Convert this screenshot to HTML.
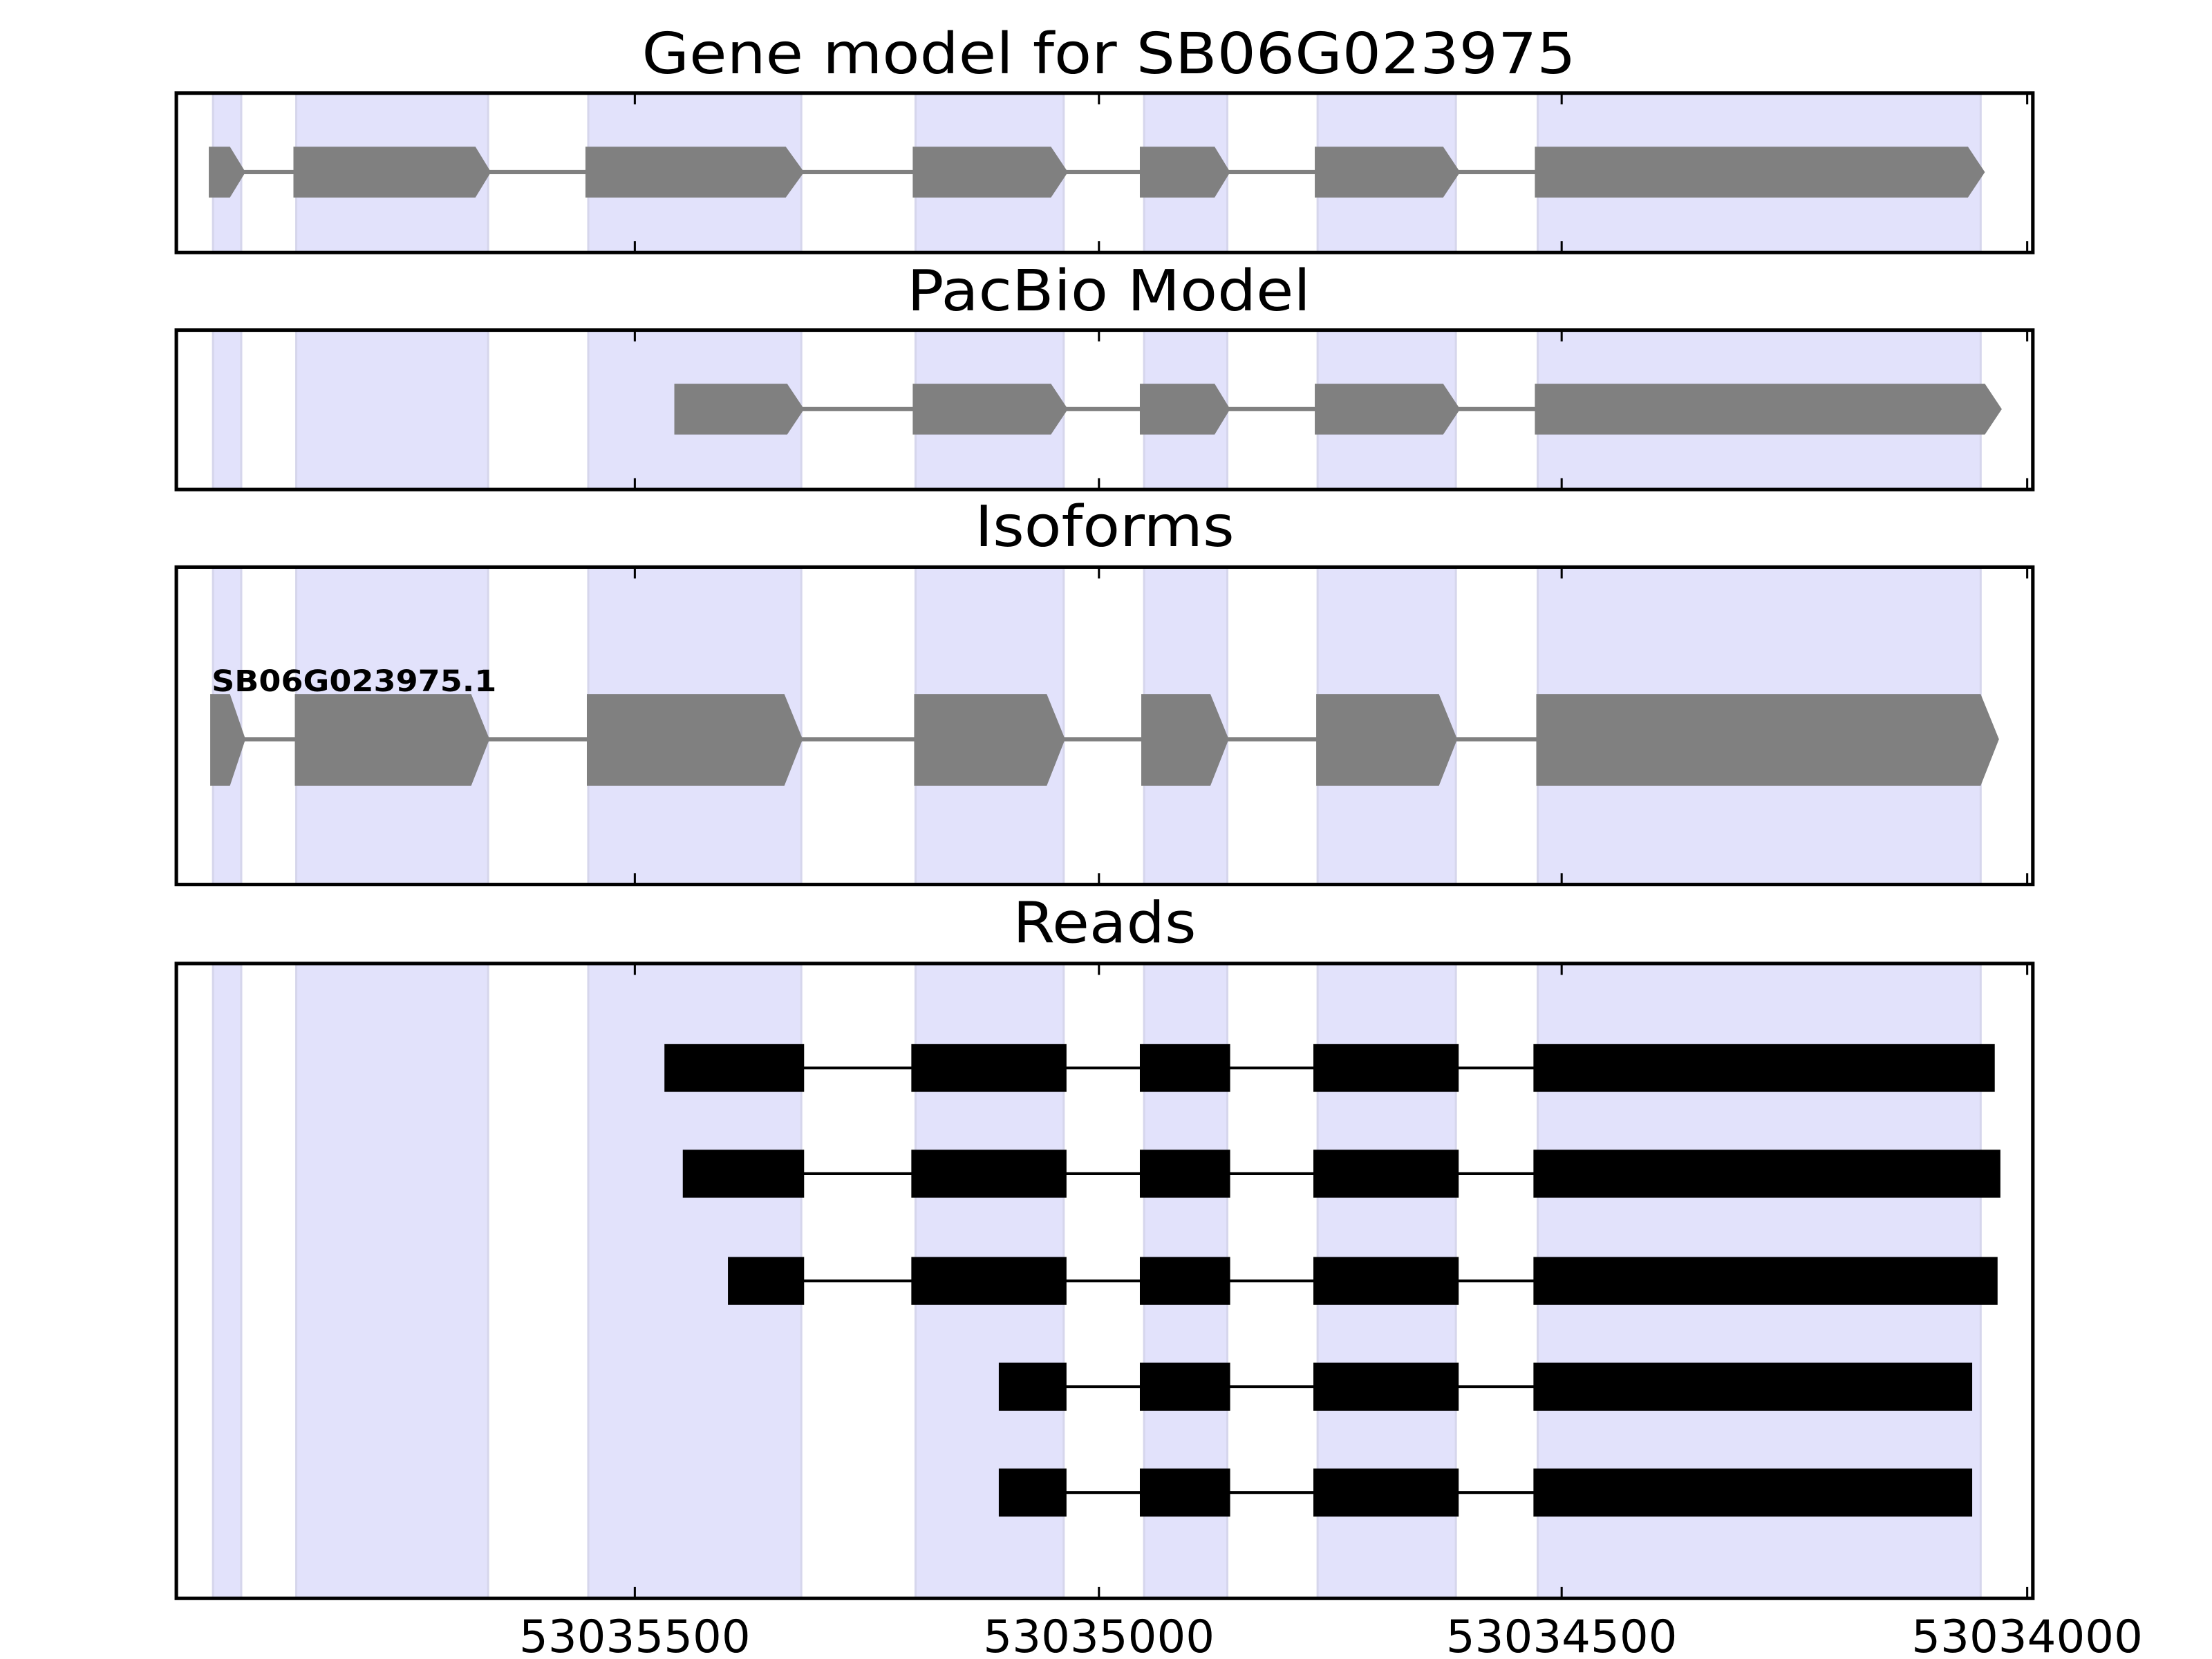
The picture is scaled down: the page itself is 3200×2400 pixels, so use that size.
<!DOCTYPE html>
<html><head><meta charset="utf-8"><style>html,body{margin:0;padding:0;background:#fff}svg{display:block}</style></head><body>
<svg xmlns="http://www.w3.org/2000/svg" width="3200" height="2400" viewBox="0 0 1568 1176">
<defs>
<g id="bands">
<rect x="151" width="20" height="1200"/>
<rect x="210" width="136" height="1200"/>
<rect x="417" width="151" height="1200"/>
<rect x="649" width="105" height="1200"/>
<rect x="811" width="59" height="1200"/>
<rect x="934" width="98" height="1200"/>
<rect x="1090" width="314" height="1200"/>
</g>
<clipPath id="c1"><rect x="125" y="66" width="1316" height="113"/></clipPath>
<clipPath id="c2"><rect x="125" y="234" width="1316" height="113"/></clipPath>
<clipPath id="c3"><rect x="125" y="402" width="1316" height="225"/></clipPath>
<clipPath id="c4"><rect x="125" y="683" width="1316" height="450"/></clipPath>
</defs>
<rect width="1568" height="1176" fill="#fff"/>
<g fill="#e2e2fb" stroke="#d6d6ec" stroke-width="1.5">
<use href="#bands" clip-path="url(#c1)"/>
<use href="#bands" clip-path="url(#c2)"/>
<use href="#bands" clip-path="url(#c3)"/>
<use href="#bands" clip-path="url(#c4)"/>
</g>
<g font-family="DejaVu Sans, Liberation Sans, sans-serif" fill="#000" text-anchor="middle">
<text x="786" y="52" font-size="40" textLength="662" lengthAdjust="spacingAndGlyphs">Gene model for SB06G023975</text>
<text x="786" y="220" font-size="40" textLength="286" lengthAdjust="spacingAndGlyphs">PacBio Model</text>
<text x="783" y="387" font-size="40" textLength="184" lengthAdjust="spacingAndGlyphs">Isoforms</text>
<text x="783" y="668" font-size="40" textLength="130" lengthAdjust="spacingAndGlyphs">Reads</text>
<text x="450" y="1171" font-size="32" textLength="164" lengthAdjust="spacingAndGlyphs">53035500</text>
<text x="779" y="1171" font-size="32" textLength="164" lengthAdjust="spacingAndGlyphs">53035000</text>
<text x="1107" y="1171" font-size="32" textLength="164" lengthAdjust="spacingAndGlyphs">53034500</text>
<text x="1437" y="1171" font-size="32" textLength="164" lengthAdjust="spacingAndGlyphs">53034000</text>
</g>
<g fill="#808080">
<line x1="160" y1="122" x2="1400" y2="122" stroke="#808080" stroke-width="3"/>
<polygon points="148,104 163,104 174,122 163,140 148,140"/>
<polygon points="208,104 337,104 348,122 337,140 208,140"/>
<polygon points="415,104 557,104 570,122 557,140 415,140"/>
<polygon points="647,104 745,104 757,122 745,140 647,140"/>
<polygon points="808,104 861,104 872,122 861,140 808,140"/>
<polygon points="932,104 1023,104 1035,122 1023,140 932,140"/>
<polygon points="1088,104 1395,104 1407,122 1395,140 1088,140"/>
</g>
<g fill="#808080">
<line x1="560" y1="290" x2="1410" y2="290" stroke="#808080" stroke-width="3"/>
<polygon points="478,272 558,272 570,290 558,308 478,308"/>
<polygon points="647,272 745,272 757,290 745,308 647,308"/>
<polygon points="808,272 861,272 872,290 861,308 808,308"/>
<polygon points="932,272 1023,272 1035,290 1023,308 932,308"/>
<polygon points="1088,272 1407,272 1419,290 1407,308 1088,308"/>
</g>
<g fill="#808080">
<line x1="160" y1="524" x2="1410" y2="524" stroke="#808080" stroke-width="3"/>
<polygon points="149,492 163,492 174,524 163,557 149,557"/>
<polygon points="209,492 334,492 347,524 334,557 209,557"/>
<polygon points="416,492 556,492 569,524 556,557 416,557"/>
<polygon points="648,492 742,492 755,524 742,557 648,557"/>
<polygon points="809,492 858,492 871,524 858,557 809,557"/>
<polygon points="933,492 1020,492 1033,524 1020,557 933,557"/>
<polygon points="1089,492 1404,492 1417,524 1404,557 1089,557"/>
</g>
<text x="150" y="490" font-family="DejaVu Sans, Liberation Sans, sans-serif" font-weight="bold" font-size="21" textLength="202" lengthAdjust="spacingAndGlyphs">SB06G023975.1</text>
<g fill="#000" stroke="#000" stroke-width="2">
<line x1="569" y1="757" x2="1413" y2="757"/>
<rect x="472" y="741" width="97" height="32"/><rect x="647" y="741" width="108" height="32"/><rect x="809" y="741" width="62" height="32"/><rect x="932" y="741" width="101" height="32"/><rect x="1088" y="741" width="325" height="32"/>
<line x1="569" y1="832" x2="1417" y2="832"/>
<rect x="485" y="816" width="84" height="32"/><rect x="647" y="816" width="108" height="32"/><rect x="809" y="816" width="62" height="32"/><rect x="932" y="816" width="101" height="32"/><rect x="1088" y="816" width="329" height="32"/>
<line x1="569" y1="908" x2="1415" y2="908"/>
<rect x="517" y="892" width="52" height="32"/><rect x="647" y="892" width="108" height="32"/><rect x="809" y="892" width="62" height="32"/><rect x="932" y="892" width="101" height="32"/><rect x="1088" y="892" width="327" height="32"/>
<line x1="755" y1="983" x2="1397" y2="983"/>
<rect x="709" y="967" width="46" height="32"/><rect x="809" y="967" width="62" height="32"/><rect x="932" y="967" width="101" height="32"/><rect x="1088" y="967" width="309" height="32"/>
<line x1="755" y1="1058" x2="1397" y2="1058"/>
<rect x="709" y="1042" width="46" height="32"/><rect x="809" y="1042" width="62" height="32"/><rect x="932" y="1042" width="101" height="32"/><rect x="1088" y="1042" width="309" height="32"/>
</g>
<g fill="none" stroke="#000" stroke-width="2.5">
<rect x="125" y="66" width="1316" height="113"/>
<rect x="125" y="234" width="1316" height="113"/>
<rect x="125" y="402" width="1316" height="225"/>
<rect x="125" y="683" width="1316" height="450"/>
</g>
<g stroke="#000" stroke-width="1.5">
<path d="M450 66v8M779 66v8M1107 66v8M1437 66v8M450 179v-8M779 179v-8M1107 179v-8M1437 179v-8"/>
<path d="M450 234v8M779 234v8M1107 234v8M1437 234v8M450 347v-8M779 347v-8M1107 347v-8M1437 347v-8"/>
<path d="M450 402v8M779 402v8M1107 402v8M1437 402v8M450 627v-8M779 627v-8M1107 627v-8M1437 627v-8"/>
<path d="M450 683v8M779 683v8M1107 683v8M1437 683v8M450 1133v-8M779 1133v-8M1107 1133v-8M1437 1133v-8"/>
</g>
</svg>
</body></html>
